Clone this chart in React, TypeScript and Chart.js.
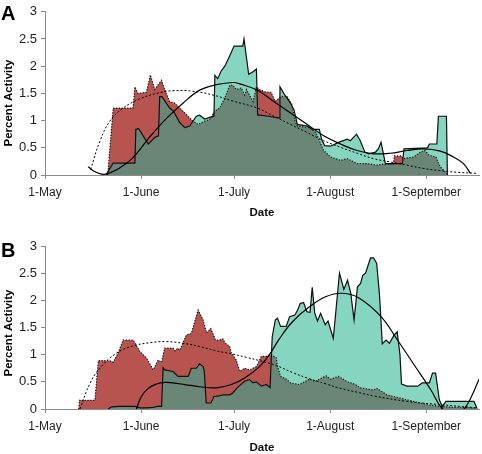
import React, { useEffect, useRef } from 'react';
import { Chart, registerables } from 'chart.js';
Chart.register(...registerables);

// ---- shared axis data ----
const monthTickDays = [0, 31, 61, 92, 123];
const monthTickLabels = ['1-May', '1-June', '1-July', '1-August', '1-September'];
const yTickValues = [0, 0.5, 1, 1.5, 2, 2.5, 3];
const yTickLabels = ['0', '0.5', '1', '1.5', '2', '2.5', '3'];
const X_MAX_DAY = 140;

// ---- Panel A (days since 1-May) ----
const aRedDays = [20.2, 20.4, 22.0, 28.4, 29.0, 30.0, 32.7, 34.0, 35.4, 37.6, 38.6, 40.2, 41.9, 43.5, 46.7, 47.7, 49.4, 51.5, 53.1, 54.7, 56.3, 58.0, 59.6, 60.6, 61.7, 63.3, 64.4, 65.0, 67.1, 68.2, 69.2, 70.8, 72.9, 73.8, 74.3, 76.0, 78.0, 79.6, 80.6, 81.4, 85.3, 87.4, 89.9, 92.1, 95.3, 97.5, 100.7, 103.9, 107.1, 109.0, 112.4, 112.7, 115.0, 115.5, 118.9, 121.1, 122.5, 124.0, 126.1, 127.5, 129.7, 130.0];
const aRedVals = [0, 0.12, 1.23, 1.23, 1.62, 1.5, 1.52, 1.84, 1.57, 1.74, 1.57, 1.35, 1.32, 1.23, 1.05, 0.99, 0.93, 0.99, 1.02, 1.17, 1.23, 1.41, 1.65, 1.65, 1.57, 1.6, 1.47, 1.57, 1.35, 1.62, 1.57, 1.53, 1.52, 1.41, 1.35, 1.44, 1.45, 1.3, 1.0, 0.9, 0.87, 0.78, 0.45, 0.33, 0.27, 0.3, 0.21, 0.21, 0.18, 0.2, 0.2, 0.35, 0.35, 0.3, 0.33, 0.42, 0.45, 0.36, 0.33, 0.15, 0.02, 0];

const aTealDays = [19.7, 20.5, 22.0, 29.0, 29.3, 30.2, 33.3, 35.4, 36.6, 37.0, 37.7, 40.2, 41.5, 43.5, 45.1, 46.7, 48.8, 49.9, 51.5, 53.1, 54.5, 54.8, 55.7, 56.9, 58.0, 59.6, 61.0, 63.8, 64.2, 65.7, 67.1, 68.2, 68.6, 69.5, 72.0, 75.5, 75.8, 77.0, 79.2, 80.3, 81.4, 84.6, 86.2, 88.5, 89.2, 90.2, 92.1, 94.7, 97.5, 98.5, 100.5, 101.7, 103.2, 104.4, 106.6, 107.5, 108.4, 109.8, 115.3, 115.8, 123.4, 124.0, 126.4, 126.9, 129.5, 129.8];
const aTealVals = [0, 0.08, 0.22, 0.22, 0.84, 0.85, 0.57, 0.69, 0.72, 1.44, 1.44, 1.23, 1.17, 0.96, 0.87, 0.9, 1.08, 1.1, 1.03, 1.06, 1.08, 1.83, 1.77, 1.92, 2.0, 2.19, 2.37, 2.37, 2.5, 1.85, 1.9, 1.95, 1.1, 1.1, 1.08, 1.05, 1.62, 1.5, 1.32, 1.2, 0.93, 0.9, 0.84, 0.84, 0.66, 0.54, 0.53, 0.6, 0.66, 0.63, 0.75, 0.63, 0.42, 0.39, 0.42, 0.48, 0.6, 0.21, 0.21, 0.48, 0.5, 0.57, 0.57, 1.08, 1.08, 0];

const aTealFitDays = [13.9, 16.1, 18.8, 20.9, 24.1, 28.4, 33.8, 39.2, 44.5, 49.9, 55.3, 60.6, 63.1, 68.5, 73.8, 79.2, 84.6, 89.9, 95.3, 100.7, 106.0, 111.4, 116.8, 122.1, 127.5, 131.8, 135.0, 137.2];
const aTealFitVals = [0.15, 0.06, 0.01, 0.04, 0.13, 0.32, 0.7, 1.04, 1.32, 1.56, 1.66, 1.7, 1.67, 1.56, 1.35, 1.14, 0.93, 0.72, 0.57, 0.45, 0.39, 0.4, 0.45, 0.48, 0.44, 0.33, 0.21, 0.03];

const aRedFitDays = [14.7, 17.7, 20.9, 25.2, 30.6, 36.0, 41.3, 47.7, 54.2, 60.6, 68.5, 73.8, 79.2, 84.6, 89.9, 95.3, 100.7, 106.0, 111.4, 116.8, 122.1, 127.5, 132.9, 139.7];
const aRedFitVals = [0.1, 0.62, 0.99, 1.23, 1.4, 1.5, 1.55, 1.54, 1.47, 1.36, 1.23, 1.08, 0.93, 0.78, 0.63, 0.51, 0.4, 0.3, 0.24, 0.18, 0.12, 0.08, 0.05, 0.03];

// ---- Panel B ----
const bRedDays = [10.9, 11.1, 16.1, 17.2, 20.9, 22.0, 23.6, 25.2, 28.4, 30.6, 32.7, 34.9, 36.5, 37.6, 38.6, 41.3, 41.9, 42.9, 43.5, 45.6, 47.2, 49.4, 51.0, 52.1, 53.5, 55.0, 56.3, 57.4, 58.0, 59.6, 60.1, 61.7, 62.8, 64.4, 66.0, 68.2, 69.8, 71.4, 73.0, 74.6, 74.9, 76.0, 77.8, 79.2, 82.1, 85.3, 87.2, 90.7, 92.1, 94.7, 97.5, 99.8, 101.7, 106.0, 107.1, 110.3, 114.6, 118.9, 123.2, 127.5, 131.8, 139.3];
const bRedVals = [0, 0.16, 0.16, 0.89, 0.89, 0.86, 1.03, 1.27, 1.27, 1.06, 0.94, 0.72, 0.9, 0.86, 1.12, 1.12, 1.07, 1.12, 1.08, 1.36, 1.39, 1.82, 1.64, 1.4, 1.48, 1.27, 1.27, 1.29, 1.22, 1.15, 1.03, 0.9, 0.69, 0.75, 0.72, 0.78, 0.97, 0.97, 1.0, 0.94, 0.81, 0.6, 0.55, 0.48, 0.45, 0.55, 0.51, 0.61, 0.55, 0.6, 0.5, 0.46, 0.39, 0.35, 0.38, 0.26, 0.2, 0.14, 0.08, 0.05, 0.03, 0.02];

const bTealDays = [20.4, 21.5, 24.0, 29.0, 30.6, 32.7, 34.9, 36.5, 37.6, 38.1, 38.6, 41.3, 42.9, 46.2, 47.2, 48.8, 49.9, 51.0, 51.4, 52.0, 53.5, 54.5, 56.3, 57.4, 59.6, 60.5, 61.7, 62.8, 64.4, 66.0, 67.1, 68.2, 69.8, 71.4, 72.6, 73.3, 74.3, 75.0, 76.0, 77.8, 78.9, 80.6, 81.5, 82.3, 83.4, 84.5, 85.5, 86.2, 87.0, 87.9, 88.9, 90.4, 91.3, 93.0, 95.0, 96.4, 97.6, 98.6, 99.7, 100.8, 101.8, 102.5, 103.4, 105.0, 106.0, 107.0, 107.9, 108.8, 110.0, 111.1, 112.6, 113.6, 114.5, 115.0, 116.8, 120.2, 121.7, 124.0, 125.0, 126.0, 127.2, 128.2, 129.3, 138.4, 139.3];
const bTealVals = [0, 0.04, 0.05, 0.05, 0.02, 0.02, 0.03, 0.05, 0.05, 0.76, 0.72, 0.69, 0.6, 0.6, 0.75, 0.75, 0.83, 0.78, 0.69, 0.11, 0.11, 0.23, 0.24, 0.26, 0.26, 0.29, 0.37, 0.43, 0.51, 0.54, 0.48, 0.5, 0.42, 0.45, 0.39, 1.33, 1.64, 1.67, 1.52, 1.52, 1.7, 1.73, 1.82, 1.94, 1.96, 1.79, 1.78, 2.24, 1.77, 1.62, 1.76, 1.55, 1.62, 1.3, 2.5, 2.2, 2.37, 2.14, 1.64, 2.25, 2.31, 2.46, 2.5, 2.78, 2.78, 2.68, 2.1, 1.2, 1.27, 1.21, 1.36, 1.42, 1.0, 0.46, 0.42, 0.42, 0.48, 0.48, 0.66, 0.66, 0.17, 0.04, 0.14, 0.14, 0.02];

const bTealFitDays = [27.4, 29.5, 31.0, 33.3, 36.0, 38.6, 41.3, 45.1, 49.9, 55.3, 60.1, 64.4, 69.2, 72.4, 75.7, 79.9, 85.3, 90.7, 96.0, 101.4, 108.4, 113.7, 119.1, 124.5, 128.2, 132.0, 135.2, 137.5, 140];
const bTealFitVals = [-0.3, 0, 0.22, 0.38, 0.46, 0.49, 0.48, 0.45, 0.41, 0.39, 0.45, 0.57, 0.78, 1.0, 1.3, 1.61, 1.88, 2.07, 2.13, 2.04, 1.7, 1.27, 0.81, 0.35, 0, -0.12, 0, 0.22, 0.55];

const bRedFitDays = [11.3, 14.5, 17.7, 23.1, 28.4, 33.8, 39.2, 44.5, 49.9, 55.3, 60.6, 65.0, 69.2, 74.6, 79.9, 84.6, 90.7, 95.3, 101.4, 106.0, 116.8, 127.5, 139.7];
const bRedFitVals = [0, 0.47, 0.75, 1.03, 1.16, 1.22, 1.24, 1.21, 1.15, 1.07, 1.01, 0.95, 0.89, 0.8, 0.67, 0.57, 0.46, 0.38, 0.3, 0.24, 0.14, 0.08, 0.02];

// ---- styles ----
const FONT = "'Liberation Sans', Arial, Helvetica, sans-serif";
const RED = '#b75450';
const TEAL = '#86d5c1';
const DARK = '#6a8676';
const AXIS = '#8a8a8a';

type Spec = {
  letter: string;
  redDays: number[]; redVals: number[];
  tealDays: number[]; tealVals: number[];
  tealFitDays: number[]; tealFitVals: number[];
  redFitDays: number[]; redFitVals: number[];
  padTop: number; xAxisH: number; titlePadBottom: number;
  letterY: number; yTitleY: number;
};

const pts = (d: number[], v: number[]) => d.map((x, i) => ({ x, y: v[i] }));
const padded = (d: number[], v: number[]) => [{ x: 0, y: 0 }, ...pts(d, v), { x: X_MAX_DAY, y: 0 }];

function makeConfig(s: Spec): any {
  const textPlugin = {
    id: 'panelText',
    afterDraw(chart: any) {
      const ctx = chart.ctx;
      ctx.save();
      ctx.fillStyle = '#000';
      ctx.font = `bold 20px ${FONT}`;
      ctx.textAlign = 'left';
      ctx.textBaseline = 'alphabetic';
      ctx.fillText(s.letter, 1, s.letterY);
      ctx.translate(8.5, s.yTitleY);
      ctx.rotate(-Math.PI / 2);
      ctx.font = `bold 11.5px ${FONT}`;
      ctx.textAlign = 'center';
      ctx.textBaseline = 'middle';
      ctx.fillText('Percent Activity', 0, 0);
      ctx.restore();
    },
  };
  const common = { pointRadius: 0, pointHoverRadius: 0 };
  return {
    type: 'line',
    data: {
      datasets: [
        { ...common, data: padded(s.tealDays, s.tealVals), fill: 'origin', backgroundColor: TEAL, borderWidth: 0, order: 10 },
        { ...common, data: padded(s.redDays, s.redVals), fill: 'origin', backgroundColor: DARK, borderWidth: 0, order: 9 },
        { ...common, data: padded(s.redDays, s.redVals), fill: { target: 0, above: RED, below: 'rgba(0,0,0,0)' }, backgroundColor: RED, borderWidth: 0, order: 8 },
        { ...common, data: pts(s.tealDays, s.tealVals), fill: false, borderColor: '#111', borderWidth: 1.2, order: 5 },
        { ...common, data: pts(s.redDays, s.redVals), fill: false, borderColor: '#111', borderWidth: 1.2, borderDash: [1.2, 1.6], order: 4 },
        { ...common, data: pts(s.tealFitDays, s.tealFitVals), fill: false, borderColor: '#000', borderWidth: 1.2, tension: 0.4, order: 2 },
        { ...common, data: pts(s.redFitDays, s.redFitVals), fill: false, borderColor: '#000', borderWidth: 1, borderDash: [2, 2], tension: 0.4, order: 1 },
      ],
    },
    options: {
      responsive: false,
      animation: false,
      events: [],
      layout: { padding: { top: s.padTop, right: 3, left: 0, bottom: 0 } },
      plugins: { legend: { display: false }, tooltip: { enabled: false } },
      scales: {
        x: {
          type: 'linear',
          min: 0,
          max: X_MAX_DAY,
          afterBuildTicks: (sc: any) => { sc.ticks = monthTickDays.map((v) => ({ value: v })); },
          afterFit: (sc: any) => { sc.height = s.xAxisH; },
          ticks: {
            autoSkip: false,
            maxRotation: 0,
            padding: 6,
            color: '#222',
            font: { family: FONT, size: 12 },
            callback: (v: number) => { const i = monthTickDays.indexOf(v); return i >= 0 ? monthTickLabels[i] : ''; },
          },
          grid: { drawOnChartArea: false, drawTicks: true, tickLength: 4, color: AXIS },
          border: { display: true, color: AXIS, width: 1 },
          title: {
            display: true,
            text: 'Date',
            color: '#111',
            font: { family: FONT, size: 11.5, weight: 'bold', lineHeight: 1 },
            padding: { top: 0, bottom: s.titlePadBottom },
          },
        },
        y: {
          min: 0,
          max: 3,
          afterBuildTicks: (sc: any) => { sc.ticks = yTickValues.map((v) => ({ value: v })); },
          afterFit: (sc: any) => { sc.width = 45; },
          ticks: {
            padding: 4,
            color: '#222',
            font: { family: FONT, size: 13 },
            callback: (v: number) => { const i = yTickValues.indexOf(v); return i >= 0 ? yTickLabels[i] : ''; },
          },
          grid: { drawOnChartArea: false, drawTicks: true, tickLength: 4, color: AXIS },
          border: { display: true, color: AXIS, width: 1 },
        },
      },
    },
    plugins: [textPlugin],
  };
}

const specA: Spec = {
  letter: 'A',
  redDays: aRedDays, redVals: aRedVals, tealDays: aTealDays, tealVals: aTealVals,
  tealFitDays: aTealFitDays, tealFitVals: aTealFitVals, redFitDays: aRedFitDays, redFitVals: aRedFitVals,
  padTop: 8, xAxisH: 52, titlePadBottom: 8, letterY: 20, yTitleY: 103,
};
const specB: Spec = {
  letter: 'B',
  redDays: bRedDays, redVals: bRedVals, tealDays: bTealDays, tealVals: bTealVals,
  tealFitDays: bTealFitDays, tealFitVals: bTealFitVals, redFitDays: bRedFitDays, redFitVals: bRedFitVals,
  padTop: 19, xAxisH: 45, titlePadBottom: 0, letterY: 30, yTitleY: 106,
};

function Panel({ spec, top }: { spec: Spec; top: number }) {
  const ref = useRef<HTMLCanvasElement>(null);
  useEffect(() => {
    if (!ref.current) return;
    const chart = new Chart(ref.current, makeConfig(spec));
    return () => chart.destroy();
  }, [spec]);
  return (
    <canvas
      ref={ref}
      width={482}
      height={227}
      style={{ position: 'absolute', left: 0, top, width: 482, height: 227 }}
    />
  );
}

export default function App() {
  return (
    <div style={{ position: 'absolute', left: 0, top: 0, width: 482, height: 454, background: '#fff' }}>
      <Panel spec={specA} top={0} />
      <Panel spec={specB} top={227} />
    </div>
  );
}
